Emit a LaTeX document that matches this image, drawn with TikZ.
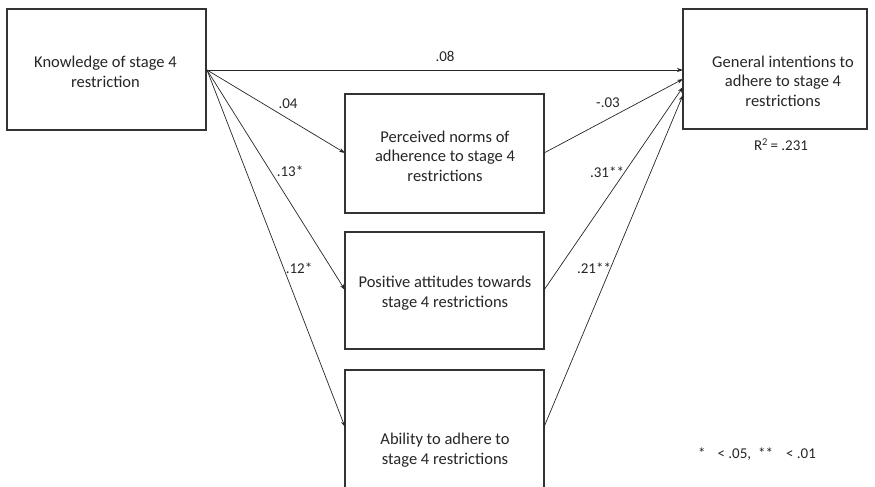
\documentclass[tikz,border=0pt]{standalone}
\usepackage{fontspec}
\setmainfont{Carlito}
\usetikzlibrary{arrows.meta}
\begin{document}
\begin{tikzpicture}[x=1pt,y=-1pt,
  boxstyle/.style={draw=black!80,line width=1.2pt,fill=white},
  boxtext/.style={align=center,font=\fontsize{16.5}{19.5}\selectfont,text=black!85},
  conn/.style={draw=black!85,line width=0.7pt,-{Stealth[length=6pt,width=4pt]}},
  lab/.style={font=\fontsize{15}{17}\selectfont,text=black!85,inner sep=0pt}]
\useasboundingbox (0,0) rectangle (875,487);
\begin{scope}
\clip (0,0) rectangle (875,487);
\draw[boxstyle] (7,9) rectangle (206,130);
\node[boxtext] (K) at (105.5,72) {Knowledge of stage 4\\restriction};
\draw[boxstyle] (683,9) rectangle (867,129);
\node[boxtext] (G) at (783,81) {General intentions to\\adhere to stage 4\\restrictions};
\draw[boxstyle] (345,94) rectangle (544,213);
\node[boxtext] (P) at (445,156) {Perceived norms of\\adherence to stage 4\\restrictions};
\draw[boxstyle] (345,232) rectangle (544,349);
\node[boxtext] (A) at (445,293) {Positive attitudes towards\\stage 4 restrictions};
\draw[boxstyle] (345,370) rectangle (544,495);
\node[boxtext] (B) at (445,450) {Ability to adhere to\\stage 4 restrictions};
\end{scope}
\coordinate (ko) at (207,70);
\coordinate (gin1) at (683,70);
\coordinate (gin2) at (683,79);
\coordinate (gin3) at (683,87);
\coordinate (gin4) at (683,95);
\coordinate (pin) at (345,153);
\coordinate (ain) at (345,290);
\coordinate (bin) at (345,427);
\coordinate (pout) at (544,153);
\coordinate (aout) at (544,290);
\coordinate (bout) at (544,427);
\draw[conn] (ko) -- (gin1);
\draw[conn] (ko) -- (pin);
\draw[conn] (ko) -- (ain);
\draw[conn] (ko) -- (bin);
\draw[conn] (pout) -- (gin2);
\draw[conn] (aout) -- (gin3);
\draw[conn] (bout) -- (gin4);
\node[lab] (l1) at (445,56) {.08};
\node[lab] (l2) at (288,104) {.04};
\node[lab] (l3) at (290,171) {.13*};
\node[lab] (l4) at (299,268) {.12*};
\node[lab] (l5) at (608,103) {-.03};
\node[lab] (l6) at (607,172) {.31**};
\node[lab] (l7) at (594,268) {.21**};
\node[lab] (r2) at (781,145) {R\textsuperscript{2}\,= .231};
\node[lab] (note) at (757,454) {*\hspace{12pt}< .05,\hspace{7pt}**\hspace{13pt}< .01};
\end{tikzpicture}
\end{document}
